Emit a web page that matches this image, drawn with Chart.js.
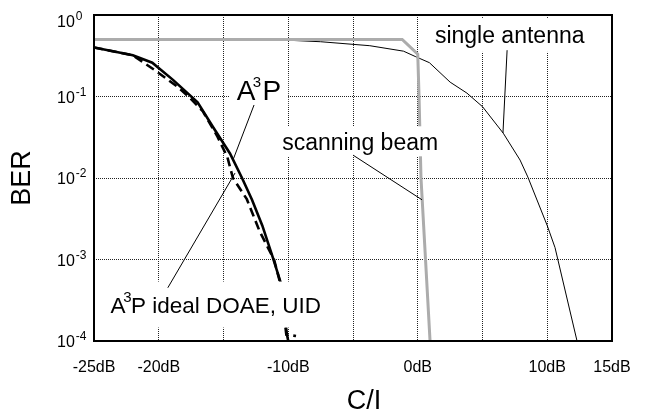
<!DOCTYPE html>
<html>
<head>
<meta charset="utf-8">
<script src="https://cdn.jsdelivr.net/npm/chart.js@4.4.0/dist/chart.umd.min.js"></script>
<style>
  html, body { margin: 0; padding: 0; background: #fff; }
</style>
</head>
<body>
<canvas id="ber" width="654" height="415"></canvas>
<script>
// C/I in dB and BER
const a3pCI  = [-25, -22, -20.5, -18.9, -17, -15.8, -14.5, -13.57, -12.8, -12, -11.2, -10.6, -10.1, -10.0];
const a3pBER = [0.40, 0.32, 0.26, 0.16, 0.085, 0.042, 0.020, 0.010, 0.0054, 0.0026, 0.00107, 0.00053, 0.00012, 0.0001];

const idealCI  = [-25, -22, -20.3, -18.5, -17.7, -16.6, -15.5, -14.7, -14.27, -13.2, -12.2, -11.1, -10.6, -10.15, -9.4];
const idealBER = [0.40, 0.32, 0.21, 0.13, 0.10, 0.066, 0.033, 0.018, 0.010, 0.0055, 0.0022, 0.0010, 0.0005, 0.00012, 0.000115];

const scanCI  = [-25, -1.2, 0, 0.1, 0.25, 0.6, 0.95];
const scanBER = [0.5, 0.5, 0.33, 0.1, 0.01, 0.001, 0.0001];

const singleCI  = [-25, -10, -7.5, -3.7, -1.1, -0.2, 0.9, 2.5, 3.8, 5.0, 6.6, 7.9, 8.5, 10.0, 10.6, 12.3];
const singleBER = [0.5, 0.49, 0.47, 0.42, 0.36, 0.31, 0.26, 0.15, 0.11, 0.075, 0.0355, 0.0166, 0.0103, 0.0026, 0.0014, 0.0001];

const xLabelled = [-25, -20, -10, 0, 10, 15];
const yTickValues = [1e-4, 1e-3, 1e-2, 1e-1, 1];
const yTickExp = ['-4', '-3', '-2', '-1', '0'];

// annotations: '^' marks the next character as a superscript
const noteText = ['single antenna', 'scanning beam', 'A^3P', 'A^3P ideal DOAE, UID'];
const noteAt = [[7.1, 0.57], [-4.45, 0.0282], [-12.26, 0.12], [-15.6, 2.8e-4]];
const noteSize = [23, 23, 28, 22.5];
const noteSupScale = [0.62, 0.62, 0.55, 0.68];
const noteBoxH = [34, 30, 32, 46];
const leaders = [
  [[6.9, 0.37], [6.58, 0.0356]],
  [[-5.0, 0.0191], [0.33, 0.0054]],
  [[-12.64, 0.0787], [-14.27, 0.0166]],
  [[-19.3, 4.5e-4], [-14.11, 0.0115]]
];

const pts = (xs, ys) => xs.map((v, i) => ({ x: v, y: ys[i] }));
const FONT = '"Liberation Sans", Arial, Helvetica, sans-serif';

Chart.defaults.font.family = FONT;
Chart.defaults.color = '#000';

function splitSup(text) {
  const parts = [];
  for (let i = 0; i < text.length; i++) {
    if (text[i] === '^') {
      parts.push({ t: text[i + 1], sup: true });
      i++;
    } else if (parts.length && !parts[parts.length - 1].sup) {
      parts[parts.length - 1].t += text[i];
    } else {
      parts.push({ t: text[i], sup: false });
    }
  }
  return parts;
}

function noteWidth(ctx, parts, size) {
  let w = 0;
  parts.forEach((p) => {
    if (p.sup) { w += 0.25 * size; return; }
    ctx.font = size + 'px ' + FONT;
    w += ctx.measureText(p.t).width;
  });
  return w;
}

// draws text centred on (cx, cy); superscripts sit over the previous letter
function drawNote(ctx, parts, cx, cy, size, w, supScale) {
  let px = cx - w / 2;
  const base = cy + 0.36 * size;
  ctx.textAlign = 'left';
  ctx.textBaseline = 'alphabetic';
  parts.forEach((p) => {
    if (p.sup) {
      ctx.font = Math.round(size * supScale) + 'px ' + FONT;
      ctx.fillText(p.t, px - 0.1 * size, base - 0.47 * size);
      px += 0.25 * size;
    } else {
      ctx.font = size + 'px ' + FONT;
      ctx.fillText(p.t, px, base);
      px += ctx.measureText(p.t).width;
    }
  });
}

const notesPlugin = {
  id: 'notes',
  afterDatasetsDraw(chart) {
    const { ctx, chartArea, scales: { x, y } } = chart;
    ctx.save();
    ctx.fillStyle = '#000';

    noteText.forEach((t, i) => {
      const parts = splitSup(t);
      const px = x.getPixelForValue(noteAt[i][0]);
      const py = y.getPixelForValue(noteAt[i][1]);
      const w = noteWidth(ctx, parts, noteSize[i]);
      ctx.fillStyle = '#fff';
      ctx.fillRect(px - w / 2 - 7, py - noteBoxH[i] / 2, w + 14, noteBoxH[i]);
      ctx.fillStyle = '#000';
      drawNote(ctx, parts, px, py, noteSize[i], w, noteSupScale[i]);
    });

    ctx.strokeStyle = '#000';
    ctx.lineWidth = 1;
    leaders.forEach(([a, b]) => {
      ctx.beginPath();
      ctx.moveTo(x.getPixelForValue(a[0]), y.getPixelForValue(a[1]));
      ctx.lineTo(x.getPixelForValue(b[0]), y.getPixelForValue(b[1]));
      ctx.stroke();
    });

    // frame round the plot
    ctx.lineWidth = 2;
    ctx.strokeRect(chartArea.left, chartArea.top,
      chartArea.right - chartArea.left, chartArea.bottom - chartArea.top);

    // y tick labels as 10 with a raised exponent
    ctx.textAlign = 'left';
    ctx.textBaseline = 'alphabetic';
    yTickValues.forEach((v, i) => {
      const py = Math.max(y.getPixelForValue(v), chartArea.top + 6);
      const lx = chartArea.left - 37;
      ctx.font = '16px ' + FONT;
      ctx.fillText('10', lx, py + 6);
      const w10 = ctx.measureText('10').width;
      ctx.font = '12px ' + FONT;
      ctx.fillText(yTickExp[i], lx + w10 + 1, py - 1);
    });

    // x axis title
    ctx.textAlign = 'center';
    ctx.textBaseline = 'middle';
    ctx.font = '27px ' + FONT;
    ctx.fillText('C/I', x.getPixelForValue(-4.15), 402);
    ctx.restore();
  }
};

new Chart(document.getElementById('ber'), {
  type: 'line',
  data: {
    datasets: [
      {
        label: 'scanning beam',
        data: pts(scanCI, scanBER),
        borderColor: '#acacac',
        borderWidth: 3,
        order: 0
      },
      {
        label: 'A3P',
        data: pts(a3pCI, a3pBER),
        borderColor: '#000',
        borderWidth: 2.6,
        order: 1
      },
      {
        label: 'A3P ideal DOAE, UID',
        data: pts(idealCI, idealBER),
        borderColor: '#000',
        borderWidth: 2.6,
        borderDash: [9, 5],
        order: 2
      },
      {
        label: 'single antenna',
        data: pts(singleCI, singleBER),
        borderColor: '#000',
        borderWidth: 1,
        order: 3
      }
    ]
  },
  options: {
    responsive: false,
    animation: false,
    layout: { padding: { top: 15, right: 42, left: 0, bottom: 0 } },
    elements: { point: { radius: 0 }, line: { tension: 0 } },
    plugins: { legend: { display: false }, tooltip: { enabled: false } },
    scales: {
      x: {
        type: 'linear',
        min: -25,
        max: 15,
        afterFit: (s) => { s.height = 74; },
        ticks: {
          stepSize: 5,
          autoSkip: false,
          maxRotation: 0,
          padding: 17,
          font: { size: 16 },
          callback: (v) => (xLabelled.includes(v) ? v + 'dB' : '')
        },
        grid: { color: '#222', drawTicks: false },
        border: { display: false, dash: [1, 1] }
      },
      y: {
        type: 'logarithmic',
        min: 1e-4,
        max: 1,
        afterFit: (s) => { s.width = 94; },
        afterBuildTicks: (s) => { s.ticks = yTickValues.map((v) => ({ value: v })); },
        ticks: {
          font: { size: 16 },
          callback: () => ''
        },
        grid: { color: '#222', drawTicks: false },
        border: { display: false, dash: [1, 1] },
        title: {
          display: true,
          text: 'BER',
          font: { size: 27, lineHeight: 1 },
          padding: { top: 9, bottom: 0 }
        }
      }
    }
  },
  plugins: [notesPlugin]
});
</script>
</body>
</html>
